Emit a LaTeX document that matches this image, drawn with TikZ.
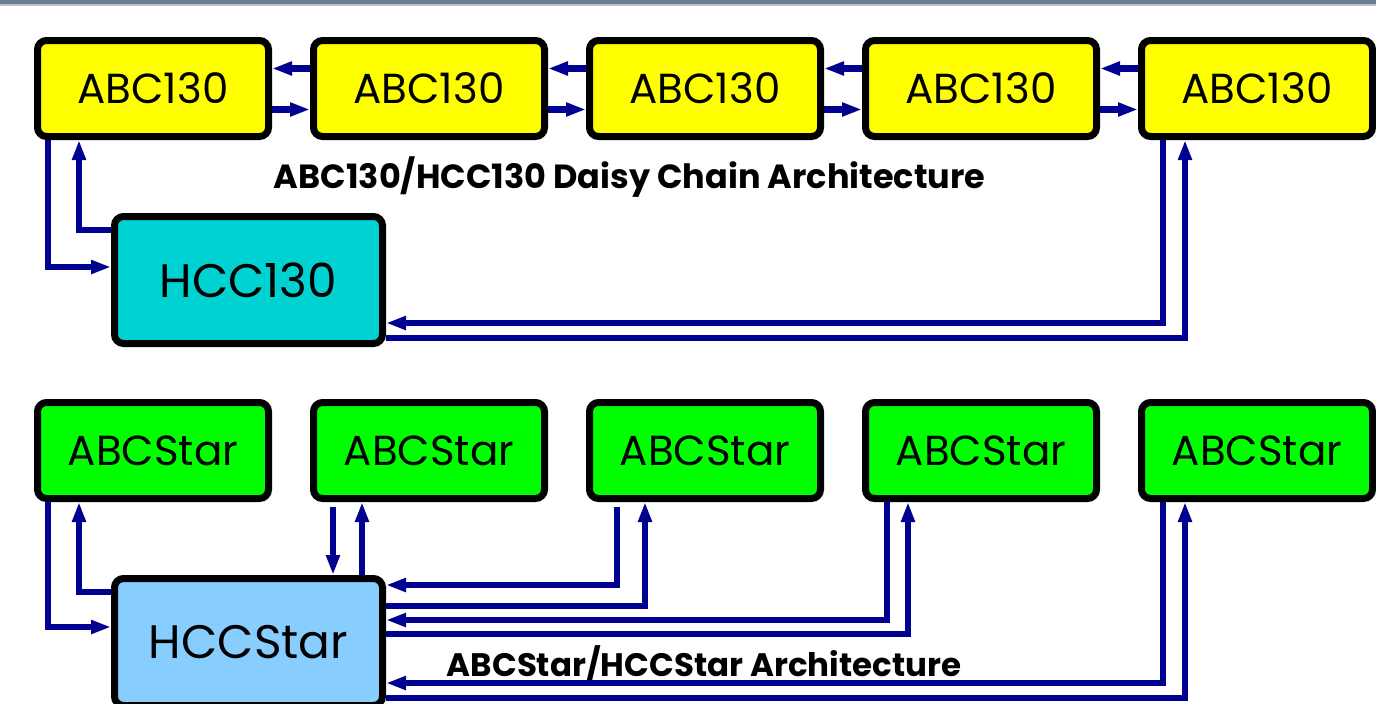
\documentclass[tikz,border=0pt]{standalone}
\usepackage{fontspec}
\setmainfont{Poppins}
\usetikzlibrary{arrows.meta}
\usetikzlibrary{positioning}
\definecolor{linkblue}{RGB}{0,0,145}
\definecolor{abcyellow}{RGB}{255,255,0}
\definecolor{abcgreen}{RGB}{0,255,0}
\definecolor{hcccyan}{RGB}{0,210,210}
\definecolor{hccblue}{RGB}{135,206,255}
\definecolor{bardark}{RGB}{108,124,146}
\definecolor{barlight}{RGB}{184,192,204}
\tikzset{chip/.style = {draw, line width=7pt, rounded corners=9pt,
                        minimum width=231pt, minimum height=96pt,
                        font=\fontsize{42}{42}\selectfont}}
\tikzset{hub/.style = {chip, minimum width=268pt, minimum height=127pt,
                       font=\fontsize{47}{47}\selectfont}}
\tikzset{link/.style = {draw=linkblue, line width=6.5pt,
                        -{Triangle[length=20pt, width=13pt]}}}
\tikzset{caption/.style = {font=\bfseries\fontsize{#1}{#1}\selectfont}}

\begin{document}
\begin{tikzpicture}[x=1pt, y=-1pt]
    \useasboundingbox (0,0) rectangle (1376,704);
    \fill [bardark] (0,0) rectangle (1376,3.5);
    \fill [barlight] (0,3.5) rectangle (1376,5.5);

    \node [chip, fill=abcyellow] (a1) at (153,88.5) {ABC130};
    \node [chip, fill=abcyellow, right=38pt of a1] (a2) {ABC130};
    \node [chip, fill=abcyellow, right=38pt of a2] (a3) {ABC130};
    \node [chip, fill=abcyellow, right=38pt of a3] (a4) {ABC130};
    \node [chip, fill=abcyellow, right=38pt of a4] (a5) {ABC130};
    \node [hub, fill=hcccyan] (hcc) at (248.5,280) {HCC130};
    \node [caption=33.5] (cap1) at (629.5,177) {ABC130/HCC130 Daisy Chain Architecture};

    \draw [link] ([yshift=20]a2.west) -- ([yshift=20]a1.east);
    \draw [link] ([yshift=-21]a1.east) -- ([yshift=-21]a2.west);
    \draw [link] ([yshift=20]a3.west) -- ([yshift=20]a2.east);
    \draw [link] ([yshift=-21]a2.east) -- ([yshift=-21]a3.west);
    \draw [link] ([yshift=20]a4.west) -- ([yshift=20]a3.east);
    \draw [link] ([yshift=-21]a3.east) -- ([yshift=-21]a4.west);
    \draw [link] ([yshift=20]a5.west) -- ([yshift=20]a4.east);
    \draw [link] ([yshift=-21]a4.east) -- ([yshift=-21]a5.west);
    \draw [link] ([xshift=-105]a1.south) |- ([yshift=13]hcc.west);
    \draw [link] ([yshift=50]hcc.west) -| ([xshift=-74]a1.south);
    \draw [link] ([xshift=-94]a5.south) |- ([yshift=-43]hcc.east);
    \draw [link] ([yshift=-58]hcc.east) -| ([xshift=-72]a5.south);

    \node [chip, fill=abcgreen] (s1) at (153,450.5) {ABCStar};
    \node [chip, fill=abcgreen, right=38pt of s1] (s2) {ABCStar};
    \node [chip, fill=abcgreen, right=38pt of s2] (s3) {ABCStar};
    \node [chip, fill=abcgreen, right=38pt of s3] (s4) {ABCStar};
    \node [chip, fill=abcgreen, right=38pt of s4] (s5) {ABCStar};
    \node [hub, fill=hccblue] (hccs) at (248.5,642) {HCCStar};
    \node [caption=32.5] (cap2) at (704,664) {ABCStar/HCCStar Architecture};

    \draw [link] ([xshift=-105]s1.south) |- ([yshift=15]hccs.west);
    \draw [link] ([yshift=50]hccs.west) -| ([xshift=-74]s1.south);
    \draw [link] ([xshift=-96,yshift=-5]s2.south) -- ([xshift=84.5]hccs.north);
    \draw [link] ([xshift=113.5]hccs.north) -- ([xshift=-67]s2.south);
    \draw [link] ([xshift=-88,yshift=-5]s3.south) |- ([yshift=57]hccs.east);
    \draw [link] ([yshift=36]hccs.east) -| ([xshift=-60]s3.south);
    \draw [link] ([xshift=-94]s4.south) |- ([yshift=22]hccs.east);
    \draw [link] ([yshift=8]hccs.east) -| ([xshift=-73]s4.south);
    \draw [link] ([xshift=-94]s5.south) |- ([yshift=-41]hccs.east);
    \draw [link] ([yshift=-56]hccs.east) -| ([xshift=-72]s5.south);
  \end{tikzpicture}
\end{document}
